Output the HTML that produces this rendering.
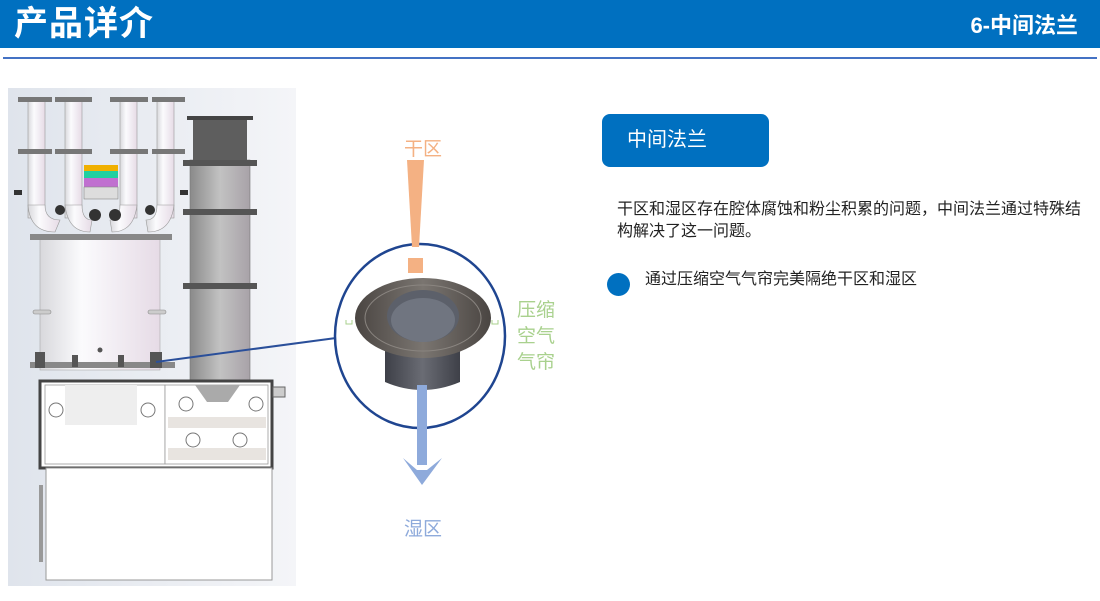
<!DOCTYPE html>
<html><head><meta charset="utf-8"><style>
body{margin:0;width:1100px;height:601px;background:#fff;position:relative;overflow:hidden;font-family:"Liberation Sans","Noto Sans CJK SC",sans-serif}
.abs{position:absolute}
</style></head><body>
<div class="abs" style="left:0;top:0;width:1100px;height:48px;background:#0070c0"></div>
<div class="abs" style="left:14px;top:2px;color:#fff;font-size:34px;font-weight:bold;line-height:44px;letter-spacing:1px">产品详介</div>
<div class="abs" style="right:22px;top:10px;color:#fff;font-size:22px;font-weight:bold;line-height:32px">6-中间法兰</div>
<div class="abs" style="left:3px;top:57px;width:1094px;height:2px;background:#4472c4"></div>

<svg class="abs" style="left:0;top:0" width="1100" height="601">
<defs>
<linearGradient id="bg" x1="0" x2="1"><stop offset="0" stop-color="#dfe4ec"/><stop offset="1" stop-color="#f4f5f8"/></linearGradient>
<linearGradient id="cyl" x1="0" x2="1"><stop offset="0" stop-color="#d8d8dc"/><stop offset=".35" stop-color="#fbfbfd"/><stop offset="1" stop-color="#e6dbe6"/></linearGradient>
<linearGradient id="col" x1="0" x2="1"><stop offset="0" stop-color="#8a8a8a"/><stop offset=".5" stop-color="#c2c2c2"/><stop offset="1" stop-color="#a8a2a8"/></linearGradient>
<linearGradient id="fl" x1="0" x2="1"><stop offset="0" stop-color="#4a4542"/><stop offset=".5" stop-color="#7a7570"/><stop offset="1" stop-color="#4a4542"/></linearGradient>
<linearGradient id="tube" x1="0" x2="1"><stop offset="0" stop-color="#3e4048"/><stop offset=".5" stop-color="#6a6c74"/><stop offset="1" stop-color="#3e4048"/></linearGradient>
</defs>
<rect x="8" y="88" width="288" height="498" fill="url(#bg)"/>
<g fill="url(#cyl)" stroke="#999" stroke-width=".6">
<rect x="28" y="98" width="17" height="120"/><rect x="65" y="98" width="17" height="120"/>
<rect x="120" y="98" width="17" height="120"/><rect x="157" y="98" width="17" height="120"/>
<path d="M28 205 Q30 232 55 232 L60 220 Q45 220 45 205Z"/>
<path d="M65 205 Q68 232 90 232 L92 220 Q82 220 82 205Z"/>
<path d="M137 205 Q134 232 112 232 L110 220 Q120 220 120 205Z"/>
<path d="M174 205 Q171 232 148 232 L146 220 Q157 220 157 205Z"/>
</g>
<g fill="#777">
<rect x="18" y="97" width="34" height="5"/><rect x="55" y="97" width="37" height="5"/><rect x="110" y="97" width="38" height="5"/><rect x="152" y="97" width="33" height="5"/>
<rect x="18" y="149" width="34" height="5"/><rect x="55" y="149" width="37" height="5"/><rect x="110" y="149" width="38" height="5"/><rect x="152" y="149" width="33" height="5"/>
</g>
<g fill="#333"><circle cx="60" cy="210" r="5"/><circle cx="150" cy="210" r="5"/><circle cx="95" cy="215" r="6"/><circle cx="115" cy="215" r="6"/><rect x="14" y="190" width="8" height="5"/><rect x="180" y="190" width="8" height="5"/></g>
<rect x="84" y="165" width="34" height="6" fill="#f0b000"/>
<rect x="84" y="171" width="34" height="7" fill="#20d0a0"/>
<rect x="84" y="178" width="34" height="9" fill="#c070d0"/>
<rect x="84" y="187" width="34" height="12" fill="#ddd" stroke="#888" stroke-width=".6"/>
<rect x="40" y="238" width="120" height="132" fill="url(#cyl)" stroke="#aaa" stroke-width=".6"/>
<rect x="30" y="234" width="142" height="6" fill="#888"/>
<rect x="30" y="362" width="145" height="6" fill="#888"/>
<g fill="#555"><rect x="35" y="352" width="10" height="16"/><rect x="150" y="352" width="12" height="16"/><rect x="72" y="355" width="6" height="12"/><rect x="118" y="355" width="6" height="12"/><circle cx="100" cy="350" r="2.5"/></g>
<rect x="33" y="310" width="18" height="4" rx="2" fill="#ccc" stroke="#888" stroke-width=".6"/>
<rect x="148" y="310" width="18" height="4" rx="2" fill="#ccc" stroke="#888" stroke-width=".6"/>
<rect x="190" y="160" width="60" height="220" fill="url(#col)" stroke="#777" stroke-width=".6"/>
<rect x="193" y="118" width="54" height="44" fill="#5e5e5e"/>
<rect x="187" y="116" width="66" height="4" fill="#444"/>
<g fill="#555"><rect x="183" y="160" width="74" height="6"/><rect x="183" y="209" width="74" height="6"/><rect x="183" y="283" width="74" height="6"/></g>
<rect x="40" y="381" width="232" height="87" fill="#fff" stroke="#444" stroke-width="3"/>
<rect x="45" y="385" width="120" height="79" fill="#fff" stroke="#999" stroke-width=".8"/>
<rect x="65" y="385" width="72" height="40" fill="#eee"/>
<rect x="165" y="385" width="103" height="79" fill="#fff" stroke="#999" stroke-width=".8"/>
<path d="M195 385 L240 385 L228 402 L207 402Z" fill="#aaa"/>
<rect x="168" y="417" width="98" height="11" fill="#e8e4e0"/><rect x="168" y="448" width="98" height="12" fill="#e8e4e0"/>
<g fill="none" stroke="#777"><circle cx="56" cy="410" r="7"/><circle cx="148" cy="410" r="7"/><circle cx="186" cy="404" r="7"/><circle cx="256" cy="404" r="7"/><circle cx="193" cy="440" r="7"/><circle cx="240" cy="440" r="7"/></g>
<rect x="273" y="387" width="12" height="10" fill="#ccc" stroke="#666"/>
<rect x="46" y="468" width="226" height="112" fill="#fff" stroke="#999" stroke-width="1"/>
<rect x="39" y="485" width="4" height="77" fill="#999"/>
<line x1="156" y1="362" x2="336" y2="338" stroke="#2a4f9a" stroke-width="2"/>
<ellipse cx="420" cy="336" rx="85" ry="92" fill="#fff" stroke="#1f4590" stroke-width="2.5"/>
<path d="M407 160 L424 160 L419 247 L412 247Z" fill="#f4b183"/>
<rect x="408" y="258" width="15" height="15" fill="#f4b183"/>
<path d="M385 330 L385 382 Q422 398 460 382 L460 330Z" fill="url(#tube)"/>
<ellipse cx="423" cy="318" rx="68" ry="40" fill="url(#fl)"/>
<ellipse cx="423" cy="318" rx="58" ry="33" fill="none" stroke="#8a8580" stroke-width="1"/>
<ellipse cx="423" cy="316" rx="36" ry="26" fill="#5c606a"/>
<ellipse cx="423" cy="320" rx="32" ry="22" fill="#707580"/>
<path d="M346 320 L346 324 L352 324 L352 320 M492 320 L492 324 L498 324 L498 320" fill="none" stroke="#a9d18e" stroke-width="1"/>
<rect x="417" y="385" width="10" height="80" fill="#8eaadb"/>
<path d="M403 458 L422 485 L442 458 L427 470 L417 470Z" fill="#8eaadb"/>
</svg>

<div class="abs" style="left:404px;top:134px;font-size:19px;color:#f4b183">干区</div>
<div class="abs" style="left:404px;top:514px;font-size:19px;color:#8eaadb">湿区</div>
<div class="abs" style="left:517px;top:298px;font-size:19px;line-height:26px;color:#a9d18e;width:44px">压缩<br>空气<br>气帘</div>

<div class="abs" style="left:602px;top:114px;width:167px;height:53px;border-radius:8px;background:#0070c0"></div>
<div class="abs" style="left:627px;top:127px;font-size:20px;color:#fff;line-height:26px">中间法兰</div>
<div class="abs" style="left:617px;top:199px;white-space:nowrap;font-size:16px;line-height:22px;color:#222">干区和湿区存在腔体腐蚀和粉尘积累的问题，中间法兰通过特殊结<br>构解决了这一问题。</div>
<div class="abs" style="left:607px;top:273px;width:23px;height:23px;border-radius:50%;background:#0070c0"></div>
<div class="abs" style="left:645px;top:269px;font-size:16px;line-height:22px;color:#222">通过压缩空气气帘完美隔绝干区和湿区</div>
</body></html>
